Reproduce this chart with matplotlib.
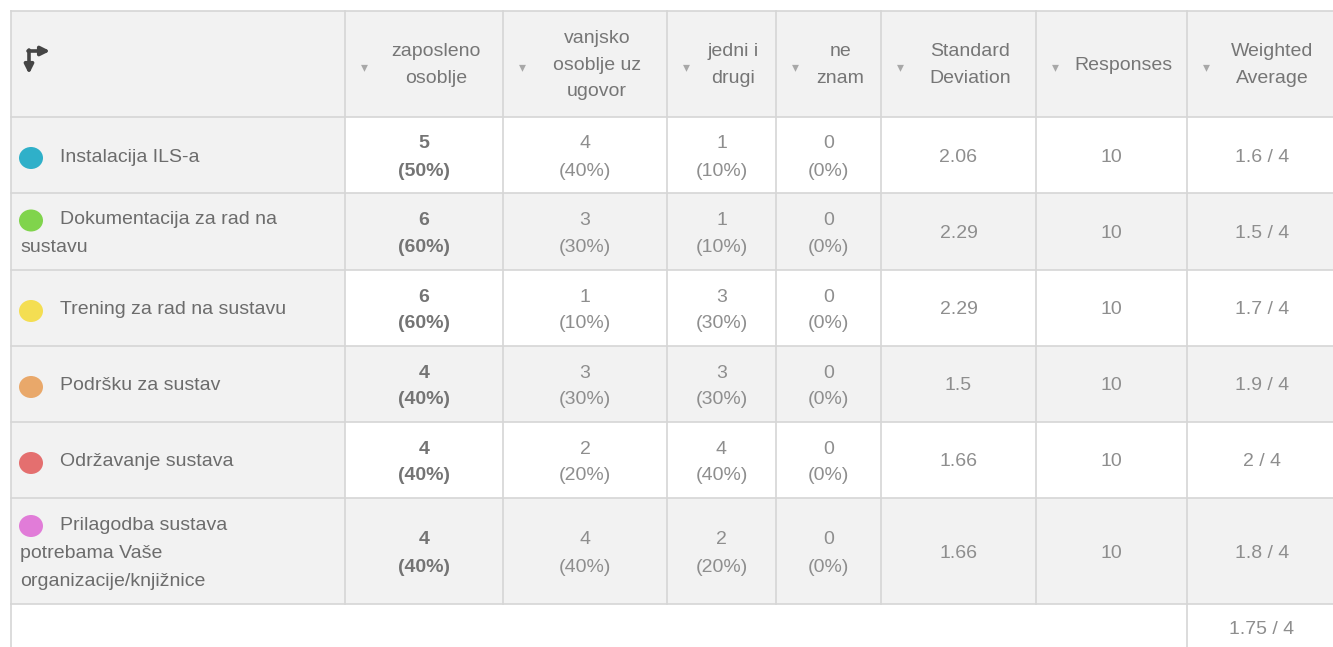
import matplotlib.pyplot as plt
from matplotlib.patches import Rectangle, Ellipse

plt.rcParams['font.family'] = ['Liberation Sans', 'DejaVu Sans']

# table data
answers = ["zaposleno\nosoblje", "vanjsko\nosoblje uz\nugovor", "jedni i\ndrugi", "ne\nznam"]
stat_headers = ["Standard\nDeviation", "Responses", "Weighted\nAverage"]
rows = [
    "Instalacija ILS-a",
    "Dokumentacija za rad na\nsustavu",
    "Trening za rad na sustavu",
    "Podršku za sustav",
    "Održavanje sustava",
    "Prilagodba sustava\npotrebama Vaše\norganizacije/knjižnice",
]
dot_colors = ["#2fb0c9", "#80d44c", "#f4de52", "#e9a86a", "#e46f6f", "#e17cd8"]
counts = [
    [5, 4, 1, 0],
    [6, 3, 1, 0],
    [6, 1, 3, 0],
    [4, 3, 3, 0],
    [4, 2, 4, 0],
    [4, 4, 2, 0],
]
std_dev = ["2.06", "2.29", "2.29", "1.5", "1.66", "1.66"]
responses = [10, 10, 10, 10, 10, 10]
weighted = ["1.6", "1.5", "1.7", "1.9", "2", "1.8"]
total_weighted = "1.75"

# layout (pixels)
W, H = 1333, 647
col_x = [11, 345, 503, 667, 776, 881, 1036, 1187, 1345]
row_y = [11, 117, 193, 270, 346, 422, 498, 604]

GRAY_BG = "#f2f2f2"
LINE = "#d6d6d6"
TXT = "#8e8e8e"
HEAD = "#767676"
LABEL = "#6c6c6c"
FS = 14

fig = plt.figure(figsize=(W / 100, H / 100), dpi=100)
ax = fig.add_axes([0, 0, 1, 1])
ax.set_xlim(0, W)
ax.set_ylim(H, 0)
ax.axis('off')

# backgrounds
ax.add_patch(Rectangle((col_x[0], row_y[0]), col_x[-1] - col_x[0], row_y[1] - row_y[0],
                       facecolor=GRAY_BG, edgecolor='none'))
for i in range(len(rows)):
    y0, y1 = row_y[i + 1], row_y[i + 2]
    ax.add_patch(Rectangle((col_x[0], y0), col_x[1] - col_x[0], y1 - y0,
                           facecolor=GRAY_BG, edgecolor='none'))
    fc = "white" if i % 2 == 0 else GRAY_BG
    ax.add_patch(Rectangle((col_x[1], y0), col_x[-1] - col_x[1], y1 - y0,
                           facecolor=fc, edgecolor='none'))

# grid lines
for y in row_y:
    ax.plot([col_x[0], col_x[-1]], [y, y], color=LINE, lw=1.2)
for x in col_x[:-1]:
    ax.plot([x, x], [row_y[0], row_y[-1]], color=LINE, lw=1.2)
ax.plot([col_x[0], col_x[0]], [row_y[-1], H], color=LINE, lw=1.2)
ax.plot([col_x[7], col_x[7]], [row_y[-1], H], color=LINE, lw=1.2)

# header icon (transpose)
arrow = dict(arrowstyle="-|>", color="#454545", lw=2.6, mutation_scale=13, shrinkA=0, shrinkB=0)
ax.annotate("", xy=(50, 51), xytext=(28, 51), arrowprops=arrow)
ax.annotate("", xy=(29, 74), xytext=(29, 50), arrowprops=arrow)

# header labels
hy = (row_y[0] + row_y[1]) / 2 + 1
headers = answers + stat_headers
for j, h in enumerate(headers):
    x0, x1 = col_x[j + 1], col_x[j + 2]
    if j == len(headers) - 1:
        x1 = 1333
    ax.text(x0 + 19, hy + 2, "▾", color="#a8a8a8", fontsize=10, ha='center', va='center',
            family=['DejaVu Sans'])
    ax.text((x0 + x1) / 2 + 12, hy, h, color=HEAD, fontsize=FS, ha='center', va='center',
            linespacing=1.7)

# body
for i, label in enumerate(rows):
    y0, y1 = row_y[i + 1], row_y[i + 2]
    yc = (y0 + y1) / 2 + 2
    lines = label.split("\n")
    n = len(lines)
    step = 28
    first_y = yc - step * (n - 1) / 2
    ax.add_patch(Ellipse((31, first_y + 1), 24, 22, facecolor=dot_colors[i], edgecolor='none'))
    for k, ln in enumerate(lines):
        ax.text(60 if k == 0 else 20, first_y + k * step, ln, color=LABEL, fontsize=FS,
                ha='left', va='center')
    total = responses[i]
    for j, c in enumerate(counts[i]):
        xc = (col_x[j + 1] + col_x[j + 2]) / 2
        bold = 'bold' if j == 0 else 'normal'
        col = "#747474" if j == 0 else TXT
        ax.text(xc, yc - 13, str(c), color=col, fontsize=FS, ha='center', va='center', weight=bold)
        ax.text(xc, yc + 14, "(%d%%)" % round(100 * c / total), color=col, fontsize=FS,
                ha='center', va='center', weight=bold)
    ax.text((col_x[5] + col_x[6]) / 2, yc, std_dev[i], color=TXT, fontsize=FS,
            ha='center', va='center')
    ax.text((col_x[6] + col_x[7]) / 2, yc, str(responses[i]), color=TXT, fontsize=FS,
            ha='center', va='center')
    ax.text((col_x[7] + 1333) / 2 + 2, yc, weighted[i] + " / 4", color=TXT, fontsize=FS,
            ha='center', va='center')

ax.text((col_x[7] + 1333) / 2 + 2, (row_y[-1] + H) / 2 + 4, total_weighted + " / 4", color=TXT,
        fontsize=FS, ha='center', va='center')

fig.savefig("out.png", dpi=100, facecolor="white")
